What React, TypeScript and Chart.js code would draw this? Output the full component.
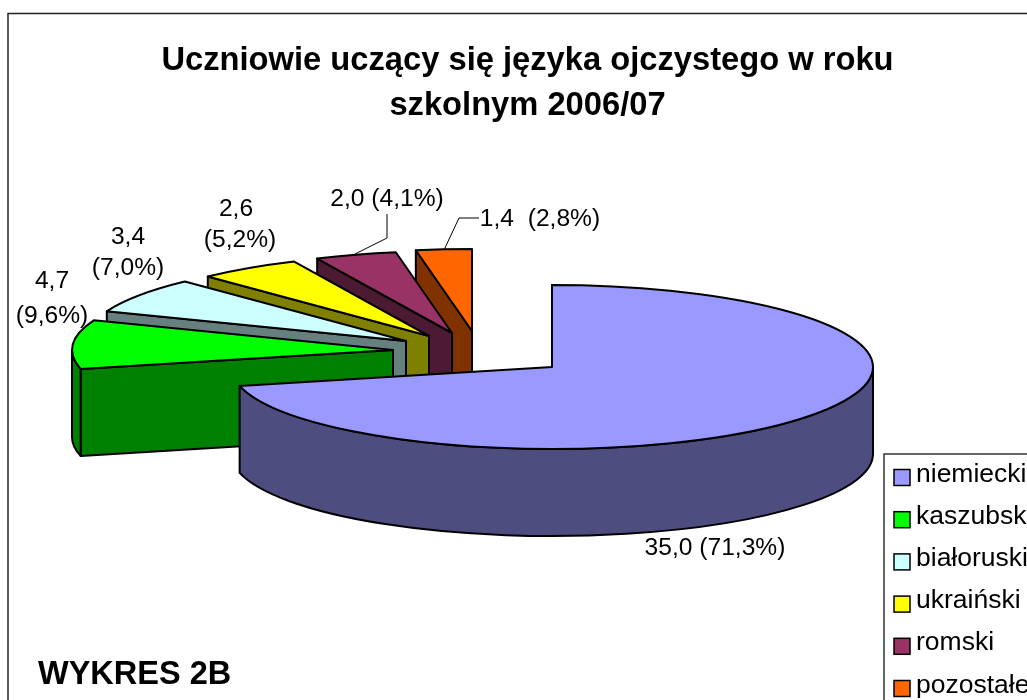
import React, { useEffect, useRef } from "react";
import { Chart, registerables } from "chart.js";

Chart.register(...registerables);

const categories = ["niemiecki", "kaszubski", "białoruski", "ukraiński", "romski", "pozostałe"];
const shares = [71.3, 9.6, 7.0, 5.2, 4.1, 2.8];
const titleLines = ["Uczniowie uczący się języka ojczystego w roku", "szkolnym 2006/07"];
const topColors = ["#9999FF", "#00FF00", "#CCFFFF", "#FFFF00", "#993366", "#FF6600"];
const sideColors = ["#4D4D80", "#008000", "#668080", "#808000", "#4D1A33", "#803300"];
// how far each slice is pulled away from the pie centre (px on screen)
const pullX = [0, -159, -146, -123, -100, -80];
const pullY = [0, -17, -26, -31, -34, -36];
const FONT = "'Liberation Sans', Arial, sans-serif";
const CX = 552, CY = 367, RX = 321, RY = 82, DEPTH = 87;
const K = RY / RX;

const sliceLabels: [string, number, number][] = [
  ["35,0 (71,3%)", 715, 555],
  ["4,7", 52, 288],
  ["(9,6%)", 52, 323],
  ["3,4", 128, 244],
  ["(7,0%)", 128, 275],
  ["2,6", 236, 216],
  ["(5,2%)", 240, 247],
  ["2,0 (4,1%)", 387, 206],
  ["1,4  (2,8%)", 540, 226],
];
const leaders: [number, number][][] = [
  [[355, 254], [387, 238], [387, 214]],
  [[444, 250], [459, 218], [479, 218]],
];

const pie3d = {
  id: "pie3d",
  afterDatasetUpdate(chart: any) {
    chart.getDatasetMeta(0).data.forEach((a: any, i: number) => {
      a.x = CX + pullX[i];
      a.y = (CY + pullY[i]) / K;
      a.innerRadius = 0;
      a.outerRadius = RX;
    });
  },
  beforeDraw(chart: any) {
    const ctx = chart.ctx;
    ctx.save();
    ctx.strokeStyle = "#222";
    ctx.lineWidth = 1.5;
    ctx.strokeRect(8, 13.5, 1200, 900);
    ctx.restore();
  },
  beforeDatasetsDraw(chart: any) {
    const ctx = chart.ctx;
    const arcs = chart.getDatasetMeta(0).data;
    ctx.save();
    ctx.lineWidth = 2;
    ctx.strokeStyle = "#000";
    ctx.lineJoin = "round";
    for (let i = arcs.length - 1; i >= 0; i--) {
      const a = arcs[i];
      const x = a.x, y = a.y * K;
      const px = x + RX * Math.cos(a.startAngle);
      const py = y + RY * Math.sin(a.startAngle);
      ctx.fillStyle = sideColors[i];
      // cut face
      ctx.beginPath();
      ctx.moveTo(x, y);
      ctx.lineTo(px, py);
      ctx.lineTo(px, py + DEPTH);
      ctx.lineTo(x, y + DEPTH);
      ctx.closePath();
      ctx.fill();
      ctx.stroke();
      // visible rim
      const from = Math.max(a.startAngle, 0);
      const to = Math.min(a.endAngle, Math.PI);
      if (to > from) rim(ctx, x, y, from, to);
    }
    ctx.restore();
    ctx.save();
    ctx.scale(1, K);
  },
  afterDatasetsDraw(chart: any) {
    const ctx = chart.ctx;
    ctx.restore();
    const arcs = chart.getDatasetMeta(0).data;
    ctx.save();
    ctx.lineWidth = 2;
    ctx.strokeStyle = "#000";
    ctx.lineJoin = "round";
    arcs.forEach((a: any) => {
      const x = a.x, y = a.y * K;
      ctx.beginPath();
      ctx.moveTo(x, y);
      ctx.ellipse(x, y, RX, RY, 0, a.startAngle, a.endAngle);
      ctx.closePath();
      ctx.stroke();
    });
    ctx.restore();
  },
  afterDraw(chart: any) {
    const ctx = chart.ctx;
    ctx.save();
    // leader lines
    ctx.strokeStyle = "#000";
    ctx.lineWidth = 1;
    leaders.forEach((pts) => {
      ctx.beginPath();
      pts.forEach(([x, y], j) => (j ? ctx.lineTo(x, y) : ctx.moveTo(x, y)));
      ctx.stroke();
    });
    // data labels
    ctx.fillStyle = "#000";
    ctx.font = `24.6px ${FONT}`;
    ctx.textAlign = "center";
    ctx.textBaseline = "alphabetic";
    sliceLabels.forEach(([t, x, y]) => ctx.fillText(t, x, y));
    // badge
    ctx.textAlign = "left";
    ctx.font = `bold 32.5px ${FONT}`;
    ctx.fillText("WYKRES 2B", 38, 684);
    // legend
    ctx.strokeStyle = "#333";
    ctx.lineWidth = 1.5;
    ctx.fillStyle = "#fff";
    ctx.fillRect(884, 454, 200, 300);
    ctx.strokeRect(884, 454, 200, 300);
    categories.forEach((c, i) => {
      const yc = 477.5 + i * 42.2;
      ctx.fillStyle = topColors[i];
      ctx.fillRect(894, yc - 8, 16, 16);
      ctx.strokeStyle = "#000";
      ctx.strokeRect(894, yc - 8, 16, 16);
      ctx.fillStyle = "#000";
      ctx.font = `26.5px ${FONT}`;
      ctx.fillText(c, 916, yc + 4);
    });
    ctx.restore();
  },
};

function rim(ctx: any, x: number, y: number, a0: number, a1: number) {
  ctx.beginPath();
  ctx.ellipse(x, y, RX, RY, 0, a0, a1);
  ctx.lineTo(x + RX * Math.cos(a1), y + RY * Math.sin(a1) + DEPTH);
  ctx.ellipse(x, y + DEPTH, RX, RY, 0, a1, a0, true);
  ctx.closePath();
  ctx.fill();
  ctx.stroke();
}

export default function App() {
  const ref = useRef<HTMLCanvasElement>(null);
  useEffect(() => {
    const chart = new Chart(ref.current!, {
      type: "pie",
      data: {
        labels: categories,
        datasets: [
          {
            data: shares,
            backgroundColor: topColors,
            borderWidth: 0,
            clip: false,
          } as any,
        ],
      },
      options: {
        responsive: false,
        animation: false,
        layout: { padding: { left: 28, top: 39 } },
        plugins: {
          legend: { display: false },
          tooltip: { enabled: false },
          title: {
            display: true,
            text: titleLines,
            color: "#000",
            font: { family: FONT, size: 32.7, weight: "bold", lineHeight: 1.37 },
            padding: 0,
          },
        },
      },
      plugins: [pie3d],
    } as any);
    return () => chart.destroy();
  }, []);
  return (
    <canvas
      ref={ref}
      width={1027}
      height={700}
      style={{ position: "fixed", left: 0, top: 0, display: "block" }}
    />
  );
}
